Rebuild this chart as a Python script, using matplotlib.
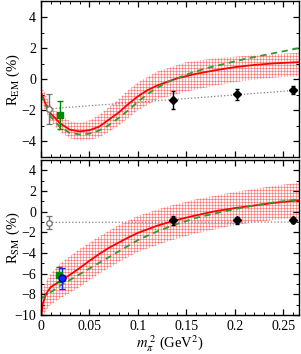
import numpy as np
import matplotlib
matplotlib.use("Agg")
import matplotlib.pyplot as plt
from matplotlib.ticker import MultipleLocator

plt.rcParams['font.family'] = ['Liberation Serif', 'DejaVu Serif']
plt.rcParams['mathtext.fontset'] = 'stix'

# --- R_EM panel ---
em_fit_x = [0, 0.005, 0.01, 0.02, 0.03, 0.04, 0.05, 0.06, 0.07, 0.08, 0.09,
            0.10, 0.11, 0.12, 0.14, 0.16, 0.18, 0.20, 0.22, 0.24, 0.266]
em_fit_y = [-0.85, -1.6, -2.2, -2.85, -3.25, -3.35, -3.28, -3.05, -2.6, -2.15, -1.6,
            -1.1, -0.7, -0.4, 0.05, 0.35, 0.58, 0.78, 0.92, 1.02, 1.1]
em_alt_x = [0, 0.01, 0.02, 0.03, 0.04, 0.05, 0.06, 0.07, 0.08, 0.09, 0.10,
            0.11, 0.12, 0.13, 0.15, 0.17, 0.19, 0.21, 0.23, 0.25, 0.266]
em_alt_y = [-1.0, -2.4, -3.1, -3.45, -3.55, -3.5, -3.3, -2.95, -2.5, -2.0, -1.45,
            -0.95, -0.55, -0.2, 0.3, 0.7, 1.0, 1.3, 1.55, 1.8, 2.0]
em_band_x = [0, 0.01, 0.02, 0.03, 0.04, 0.05, 0.06, 0.07, 0.08, 0.09, 0.10,
             0.12, 0.15, 0.18, 0.21, 0.24, 0.266]
em_band_hi = [-0.3, -1.7, -2.3, -2.7, -2.8, -2.65, -2.3, -1.8, -1.3, -0.7, -0.2,
              0.5, 1.1, 1.35, 1.5, 1.6, 1.7]
em_band_lo = [-1.4, -2.7, -3.4, -3.8, -3.95, -3.9, -3.75, -3.4, -3.0, -2.5, -2.0,
              -1.3, -0.8, -0.4, -0.1, 0.1, 0.2]
em_lat_x = [0.136, 0.2025, 0.260]
em_lat_y = [-1.35, -0.97, -0.71]
em_lat_err = [0.58, 0.35, 0.26]
em_exp_x, em_exp_y, em_exp_err = 0.0083, -1.9, 0.95
em_line_x = [0.0083, 0.266]
em_line_y = [-1.9, -0.7]
em_sq_x, em_sq_y, em_sq_err = 0.0196, -2.3, 0.92

# --- R_SM panel ---
sm_fit_x = [0.0005, 0.002, 0.005, 0.01, 0.02, 0.03, 0.04, 0.05, 0.06, 0.07, 0.08,
            0.09, 0.10, 0.12, 0.14, 0.16, 0.18, 0.20, 0.22, 0.24, 0.266]
sm_fit_y = [-10.0, -8.9, -8.0, -7.3, -6.7, -6.1, -5.45, -4.75, -4.1, -3.5, -3.0,
            -2.5, -2.05, -1.35, -0.8, -0.35, 0.05, 0.35, 0.6, 0.85, 1.1]
sm_alt_x = [0, 0.01, 0.02, 0.03, 0.04, 0.05, 0.06, 0.07, 0.08, 0.09, 0.10,
            0.12, 0.14, 0.16, 0.18, 0.20, 0.22, 0.24, 0.266]
sm_alt_y = [-8.4, -7.8, -7.15, -6.6, -6.05, -5.5, -4.95, -4.4, -3.85, -3.3, -2.75,
            -1.9, -1.2, -0.6, -0.15, 0.25, 0.6, 0.9, 1.2]
sm_band_x = [0, 0.005, 0.01, 0.02, 0.04, 0.06, 0.08, 0.10, 0.13, 0.16, 0.20, 0.24, 0.266]
sm_band_hi = [-8.0, -6.8, -6.0, -5.0, -3.6, -2.4, -1.3, -0.4, 0.5, 1.2, 1.9, 2.5, 2.8]
sm_band_lo = [-10.5, -9.6, -9.0, -8.4, -7.3, -6.0, -4.9, -3.9, -2.9, -2.1, -1.3, -0.8, -0.6]
sm_lat_x = [0.136, 0.2025, 0.260]
sm_lat_y = [-0.83, -0.83, -0.77]
sm_lat_err = [0.45, 0.35, 0.3]
sm_exp_x, sm_exp_y, sm_exp_err = 0.0083, -1.05, 0.65
sm_line_x = [0.0083, 0.266]
sm_line_y = [-1.03, -1.0]
sm_sq_x, sm_sq_y, sm_sq_err = 0.0188, -6.1, 0.75
sm_bl_x, sm_bl_y, sm_bl_err = 0.0213, -6.45, 1.0

XMAX = 0.266


def grid_pattern(w, h, step=3):
    # pink dotted grid, like the cross-hatched error band of the original
    img = np.ones((h, w, 3))
    img[:, :] = (1.0, 0.97, 0.97)
    img[::step, :] = (1.0, 0.66, 0.66)
    img[:, ::step] = (1.0, 0.66, 0.66)
    img[::step, ::step] = (1.0, 0.45, 0.45)
    return img


def draw_panel(ax, ylim, fx, fy, ax_, ay, bx, bhi, blo, lx, ly, lerr,
               ex, ey, eerr, linex, liney, sq, extra=None):
    band = ax.fill_between(bx, blo, bhi, facecolor='none', linewidth=0)
    im = ax.imshow(grid_pattern(258, 155), extent=(0, XMAX, ylim[0], ylim[1]),
                   aspect='auto', interpolation='nearest', origin='lower', zorder=1)
    im.set_clip_path(band.get_paths()[0], transform=ax.transData)
    ax.plot(linex, liney, ':', color='#808080', lw=0.9, zorder=2)
    ax.plot(fx, fy, '-', color='red', lw=1.3, zorder=3)
    ax.plot(ax_, ay, '--', color='#339933', lw=1.3, dashes=(3.5, 2.5), zorder=3)
    ax.errorbar(ex, ey, yerr=eerr, fmt='o', ms=4, mfc='white', mec='#707070',
                ecolor='#707070', elinewidth=1, capsize=2, mew=0.9, zorder=4)
    ax.errorbar(lx, ly, yerr=lerr, fmt='D', ms=4.5, color='black',
                elinewidth=1, capsize=1.5, zorder=4)
    ax.errorbar(sq[0], sq[1], yerr=sq[2], fmt='s', ms=5, color='#008800',
                elinewidth=1, capsize=2.5, zorder=4)
    if extra is not None:
        ax.errorbar(extra[0], extra[1], yerr=extra[2], fmt='o', ms=5, mfc='#2020ff',
                    mec='#0000aa', ecolor='#2020ff', elinewidth=1, capsize=2.5, zorder=4)
    ax.set_xlim(0, XMAX)
    ax.set_ylim(*ylim)
    ax.xaxis.set_major_locator(MultipleLocator(0.05))
    ax.xaxis.set_minor_locator(MultipleLocator(0.01))
    ax.yaxis.set_major_locator(MultipleLocator(2))
    ax.yaxis.set_minor_locator(MultipleLocator(1))
    ax.tick_params(which='both', direction='in', top=True, right=True, labelsize=10)
    ax.tick_params(which='major', length=4.5, width=0.9)
    ax.tick_params(which='minor', length=2.5, width=0.7)
    for s in ax.spines.values():
        s.set_linewidth(1.0)
        s.set_zorder(5)


fig = plt.figure(figsize=(3.01, 3.54), dpi=100)
ax1 = fig.add_axes([0.136, 0.5565, 0.857, 0.4393])
ax2 = fig.add_axes([0.136, 0.110, 0.857, 0.438])

draw_panel(ax1, (-5, 5), em_fit_x, em_fit_y, em_alt_x, em_alt_y,
           em_band_x, em_band_hi, em_band_lo,
           em_lat_x, em_lat_y, em_lat_err, em_exp_x, em_exp_y, em_exp_err,
           em_line_x, em_line_y, (em_sq_x, em_sq_y, em_sq_err))
ax1.set_xticklabels([])
ax1.set_ylabel(r'R$_{\rm EM}$ (%)', fontsize=10.5, va='center')
ax1.yaxis.set_label_coords(-0.108, 0.5)

draw_panel(ax2, (-10, 5), sm_fit_x, sm_fit_y, sm_alt_x, sm_alt_y,
           sm_band_x, sm_band_hi, sm_band_lo,
           sm_lat_x, sm_lat_y, sm_lat_err, sm_exp_x, sm_exp_y, sm_exp_err,
           sm_line_x, sm_line_y, (sm_sq_x, sm_sq_y, sm_sq_err),
           extra=(sm_bl_x, sm_bl_y, sm_bl_err))
ax2.set_xticks([0, 0.05, 0.1, 0.15, 0.2, 0.25])
ax2.set_xticklabels(['0', '0.05', '0.1', '0.15', '0.2', '0.25'])
ax2.set_ylabel(r'R$_{\rm SM}$ (%)', fontsize=10.5, va='center')
ax2.yaxis.set_label_coords(-0.108, 0.5)
ax2.set_xlabel(r'$m_{\pi}^{\;2}$ (GeV$^2$)', fontsize=10.5, va='center')
ax2.xaxis.set_label_coords(0.5, -0.185)

fig.savefig('out.png', dpi=100)
